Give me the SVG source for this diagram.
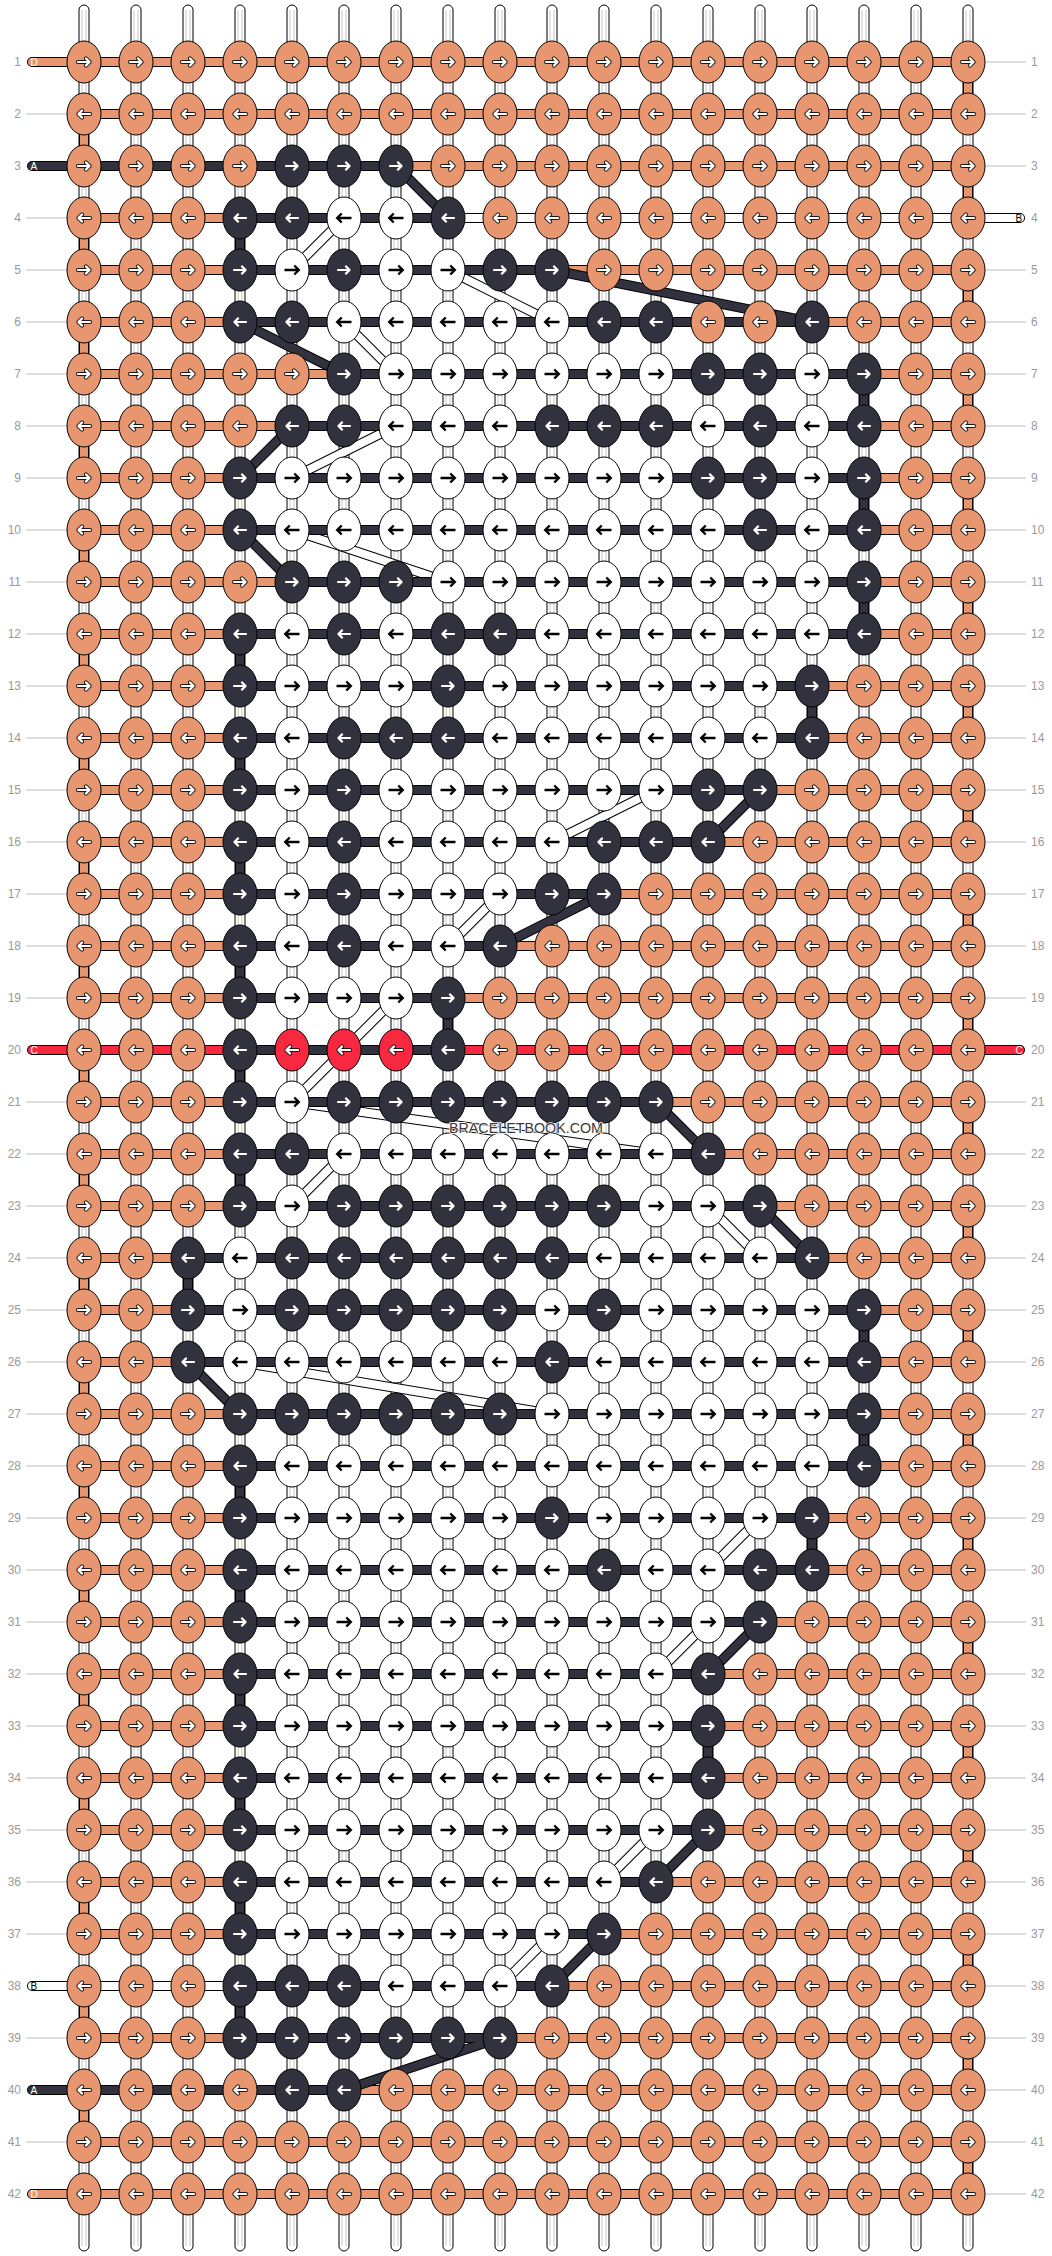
<svg xmlns="http://www.w3.org/2000/svg" width="1052" height="2256" viewBox="0 0 1052 2256">
<style>
.ks{fill:#E89670;stroke:#000;stroke-width:1}
.kk{fill:#32323E;stroke:#000;stroke-width:1}
.kw{fill:#fff;stroke:#000;stroke-width:1}
.kr{fill:#F92841;stroke:#000;stroke-width:1}
.ao{fill:none;stroke:#1a1a1a;stroke-width:4.2;stroke-linecap:round;stroke-linejoin:round}
.aw{fill:none;stroke:#fff;stroke-width:2.2;stroke-linecap:round;stroke-linejoin:round}
.ab{fill:none;stroke:#000;stroke-width:2.4;stroke-linejoin:miter}
.to{fill:none;stroke:#000;stroke-width:10;stroke-linecap:round;stroke-linejoin:round}
.tc{fill:none;stroke-width:8;stroke-linecap:round;stroke-linejoin:round}
.cD{stroke:#E89670}
.cC{stroke:#F92841}
.cB{stroke:#fff}
.cA{stroke:#32323E}
.gl{fill:none;stroke:#bdbdbd;stroke-width:1}
.num text{font-family:"Liberation Sans",Arial,sans-serif;font-size:12px;fill:#9a9a9a}
.lab{font-family:"Liberation Sans",Arial,sans-serif;font-size:10px}
</style>
<defs>
<g id="bstr"><rect x="-5" y="5" width="10" height="2246" rx="5" fill="#fff" stroke="#000" stroke-width="1"/><path d="M-2,10V2246M2,10V2246" stroke="#c8c8c8" stroke-width="1" fill="none"/></g>
<path id="ar" d="M-6,0H5.4M1.9,-3.6L5.6,0L1.9,3.6"/>
<path id="al" d="M6,0H-5.4M-1.9,-3.6L-5.6,0L-1.9,3.6"/>
<path id="br" d="M-7.5,0H6.5M2.3,-4.5L6.8,0L2.3,4.5"/>
<path id="bl" d="M7.5,0H-6.5M-2.3,-4.5L-6.8,0L-2.3,4.5"/>
<g id="Sr"><ellipse class="ks" rx="17" ry="21"/><use href="#ar" class="ao"/><use href="#ar" class="aw"/></g>
<g id="Sl"><ellipse class="ks" rx="17" ry="21"/><use href="#al" class="ao"/><use href="#al" class="aw"/></g>
<g id="Kr"><ellipse class="kk" rx="17" ry="21"/><use href="#ar" class="aw"/></g>
<g id="Kl"><ellipse class="kk" rx="17" ry="21"/><use href="#al" class="aw"/></g>
<g id="Wr"><ellipse class="kw" rx="17" ry="21"/><use href="#br" class="ab"/></g>
<g id="Wl"><ellipse class="kw" rx="17" ry="21"/><use href="#bl" class="ab"/></g>
<g id="Rl"><ellipse class="kr" rx="17" ry="21"/><use href="#al" class="ao"/><use href="#al" class="aw"/></g>
<path id="pD" d="M32,62H968V114H84V166H968V218H84V270H968V322H84V374H968V426H84V478H968V530H84V582H968V634H84V686H968V738H84V790H968V842H84V894H968V946H84V998H968V1050H84V1102H968V1154H84V1206H968V1258H84V1310H968V1362H84V1414H968V1466H84V1518H968V1570H84V1622H968V1674H84V1726H968V1778H84V1830H968V1882H84V1934H968V1986H84V2038H968V2090H84V2142H968V2194H32"/>
<path id="pC" d="M32,1050H1020"/>
<path id="pB" d="M1020,218H344L292,270H448L552,322H344L396,374H812M812,426H396L292,478H812M812,530H292L448,582H812M812,634H292M292,686H760M760,738H292M292,790H656L552,842H292M292,894H500L448,946H292M292,998H396L292,1102L656,1154H344L292,1206H708L760,1258H240M240,1310H812M812,1362H240L552,1414H812M812,1466H292M292,1518H760L708,1570H292M292,1622H708L656,1674H292M292,1726H656M656,1778H292M292,1830H656L604,1882H292M292,1934H552L500,1986H32"/>
<path id="pA" d="M32,166H396L448,218H240V270H552L812,322H240L344,374H864V426H292L240,478H864V530H240L292,582H864V634H240V686H812V738H240V790H760L708,842H240V894H604L500,946H240V998H448V1050H240V1102H656L708,1154H240V1206H760L812,1258H188V1310H864V1362H188L240,1414H864V1466H240V1518H812V1570H240V1622H760L708,1674H240V1726H708V1778H240V1830H708L656,1882H240V1934H604L552,1986H240V2038H500L344,2090H32"/>
</defs>
<rect width="1052" height="2256" fill="#fff"/>
<g id="base-strings">
<use href="#bstr" x="84"/><use href="#bstr" x="136"/><use href="#bstr" x="188"/><use href="#bstr" x="240"/><use href="#bstr" x="292"/><use href="#bstr" x="344"/><use href="#bstr" x="396"/><use href="#bstr" x="448"/><use href="#bstr" x="500"/><use href="#bstr" x="552"/><use href="#bstr" x="604"/><use href="#bstr" x="656"/><use href="#bstr" x="708"/><use href="#bstr" x="760"/><use href="#bstr" x="812"/><use href="#bstr" x="864"/><use href="#bstr" x="916"/><use href="#bstr" x="968"/>
</g>
<g id="row-lines">
<path class="gl" d="M26,114H67M26,218H67M26,270H67M26,322H67M26,374H67M26,426H67M26,478H67M26,530H67M26,582H67M26,634H67M26,686H67M26,738H67M26,790H67M26,842H67M26,894H67M26,946H67M26,998H67M26,1102H67M26,1154H67M26,1206H67M26,1258H67M26,1310H67M26,1362H67M26,1414H67M26,1466H67M26,1518H67M26,1570H67M26,1622H67M26,1674H67M26,1726H67M26,1778H67M26,1830H67M26,1882H67M26,1934H67M26,2038H67M26,2142H67"/>
<path class="gl" d="M985,62H1026M985,114H1026M985,166H1026M985,270H1026M985,322H1026M985,374H1026M985,426H1026M985,478H1026M985,530H1026M985,582H1026M985,634H1026M985,686H1026M985,738H1026M985,790H1026M985,842H1026M985,894H1026M985,946H1026M985,998H1026M985,1102H1026M985,1154H1026M985,1206H1026M985,1258H1026M985,1310H1026M985,1362H1026M985,1414H1026M985,1466H1026M985,1518H1026M985,1570H1026M985,1622H1026M985,1674H1026M985,1726H1026M985,1778H1026M985,1830H1026M985,1882H1026M985,1934H1026M985,1986H1026M985,2038H1026M985,2090H1026M985,2142H1026M985,2194H1026"/>
</g>
<g id="connectors">
<g id="thread-D"><use href="#pD" class="to"/><use href="#pD" class="tc cD"/></g>
<g id="thread-C"><use href="#pC" class="to"/><use href="#pC" class="tc cC"/></g>
<g id="thread-B"><use href="#pB" class="to"/><use href="#pB" class="tc cB"/></g>
<g id="thread-A"><use href="#pA" class="to"/><use href="#pA" class="tc cA"/></g>
</g>
<g id="knots">
<g id="row1" transform="translate(0 62)"><g id="k1_1"><use href="#Sr" x="84"/></g><g id="k1_2"><use href="#Sr" x="136"/></g><g id="k1_3"><use href="#Sr" x="188"/></g><g id="k1_4"><use href="#Sr" x="240"/></g><g id="k1_5"><use href="#Sr" x="292"/></g><g id="k1_6"><use href="#Sr" x="344"/></g><g id="k1_7"><use href="#Sr" x="396"/></g><g id="k1_8"><use href="#Sr" x="448"/></g><g id="k1_9"><use href="#Sr" x="500"/></g><g id="k1_10"><use href="#Sr" x="552"/></g><g id="k1_11"><use href="#Sr" x="604"/></g><g id="k1_12"><use href="#Sr" x="656"/></g><g id="k1_13"><use href="#Sr" x="708"/></g><g id="k1_14"><use href="#Sr" x="760"/></g><g id="k1_15"><use href="#Sr" x="812"/></g><g id="k1_16"><use href="#Sr" x="864"/></g><g id="k1_17"><use href="#Sr" x="916"/></g><g id="k1_18"><use href="#Sr" x="968"/></g></g>
<g id="row2" transform="translate(0 114)"><g id="k2_1"><use href="#Sl" x="84"/></g><g id="k2_2"><use href="#Sl" x="136"/></g><g id="k2_3"><use href="#Sl" x="188"/></g><g id="k2_4"><use href="#Sl" x="240"/></g><g id="k2_5"><use href="#Sl" x="292"/></g><g id="k2_6"><use href="#Sl" x="344"/></g><g id="k2_7"><use href="#Sl" x="396"/></g><g id="k2_8"><use href="#Sl" x="448"/></g><g id="k2_9"><use href="#Sl" x="500"/></g><g id="k2_10"><use href="#Sl" x="552"/></g><g id="k2_11"><use href="#Sl" x="604"/></g><g id="k2_12"><use href="#Sl" x="656"/></g><g id="k2_13"><use href="#Sl" x="708"/></g><g id="k2_14"><use href="#Sl" x="760"/></g><g id="k2_15"><use href="#Sl" x="812"/></g><g id="k2_16"><use href="#Sl" x="864"/></g><g id="k2_17"><use href="#Sl" x="916"/></g><g id="k2_18"><use href="#Sl" x="968"/></g></g>
<g id="row3" transform="translate(0 166)"><g id="k3_1"><use href="#Sr" x="84"/></g><g id="k3_2"><use href="#Sr" x="136"/></g><g id="k3_3"><use href="#Sr" x="188"/></g><g id="k3_4"><use href="#Sr" x="240"/></g><g id="k3_5"><use href="#Kr" x="292"/></g><g id="k3_6"><use href="#Kr" x="344"/></g><g id="k3_7"><use href="#Kr" x="396"/></g><g id="k3_8"><use href="#Sr" x="448"/></g><g id="k3_9"><use href="#Sr" x="500"/></g><g id="k3_10"><use href="#Sr" x="552"/></g><g id="k3_11"><use href="#Sr" x="604"/></g><g id="k3_12"><use href="#Sr" x="656"/></g><g id="k3_13"><use href="#Sr" x="708"/></g><g id="k3_14"><use href="#Sr" x="760"/></g><g id="k3_15"><use href="#Sr" x="812"/></g><g id="k3_16"><use href="#Sr" x="864"/></g><g id="k3_17"><use href="#Sr" x="916"/></g><g id="k3_18"><use href="#Sr" x="968"/></g></g>
<g id="row4" transform="translate(0 218)"><g id="k4_1"><use href="#Sl" x="84"/></g><g id="k4_2"><use href="#Sl" x="136"/></g><g id="k4_3"><use href="#Sl" x="188"/></g><g id="k4_4"><use href="#Kl" x="240"/></g><g id="k4_5"><use href="#Kl" x="292"/></g><g id="k4_6"><use href="#Wl" x="344"/></g><g id="k4_7"><use href="#Wl" x="396"/></g><g id="k4_8"><use href="#Kl" x="448"/></g><g id="k4_9"><use href="#Sl" x="500"/></g><g id="k4_10"><use href="#Sl" x="552"/></g><g id="k4_11"><use href="#Sl" x="604"/></g><g id="k4_12"><use href="#Sl" x="656"/></g><g id="k4_13"><use href="#Sl" x="708"/></g><g id="k4_14"><use href="#Sl" x="760"/></g><g id="k4_15"><use href="#Sl" x="812"/></g><g id="k4_16"><use href="#Sl" x="864"/></g><g id="k4_17"><use href="#Sl" x="916"/></g><g id="k4_18"><use href="#Sl" x="968"/></g></g>
<g id="row5" transform="translate(0 270)"><g id="k5_1"><use href="#Sr" x="84"/></g><g id="k5_2"><use href="#Sr" x="136"/></g><g id="k5_3"><use href="#Sr" x="188"/></g><g id="k5_4"><use href="#Kr" x="240"/></g><g id="k5_5"><use href="#Wr" x="292"/></g><g id="k5_6"><use href="#Kr" x="344"/></g><g id="k5_7"><use href="#Wr" x="396"/></g><g id="k5_8"><use href="#Wr" x="448"/></g><g id="k5_9"><use href="#Kr" x="500"/></g><g id="k5_10"><use href="#Kr" x="552"/></g><g id="k5_11"><use href="#Sr" x="604"/></g><g id="k5_12"><use href="#Sr" x="656"/></g><g id="k5_13"><use href="#Sr" x="708"/></g><g id="k5_14"><use href="#Sr" x="760"/></g><g id="k5_15"><use href="#Sr" x="812"/></g><g id="k5_16"><use href="#Sr" x="864"/></g><g id="k5_17"><use href="#Sr" x="916"/></g><g id="k5_18"><use href="#Sr" x="968"/></g></g>
<g id="row6" transform="translate(0 322)"><g id="k6_1"><use href="#Sl" x="84"/></g><g id="k6_2"><use href="#Sl" x="136"/></g><g id="k6_3"><use href="#Sl" x="188"/></g><g id="k6_4"><use href="#Kl" x="240"/></g><g id="k6_5"><use href="#Kl" x="292"/></g><g id="k6_6"><use href="#Wl" x="344"/></g><g id="k6_7"><use href="#Wl" x="396"/></g><g id="k6_8"><use href="#Wl" x="448"/></g><g id="k6_9"><use href="#Wl" x="500"/></g><g id="k6_10"><use href="#Wl" x="552"/></g><g id="k6_11"><use href="#Kl" x="604"/></g><g id="k6_12"><use href="#Kl" x="656"/></g><g id="k6_13"><use href="#Sl" x="708"/></g><g id="k6_14"><use href="#Sl" x="760"/></g><g id="k6_15"><use href="#Kl" x="812"/></g><g id="k6_16"><use href="#Sl" x="864"/></g><g id="k6_17"><use href="#Sl" x="916"/></g><g id="k6_18"><use href="#Sl" x="968"/></g></g>
<g id="row7" transform="translate(0 374)"><g id="k7_1"><use href="#Sr" x="84"/></g><g id="k7_2"><use href="#Sr" x="136"/></g><g id="k7_3"><use href="#Sr" x="188"/></g><g id="k7_4"><use href="#Sr" x="240"/></g><g id="k7_5"><use href="#Sr" x="292"/></g><g id="k7_6"><use href="#Kr" x="344"/></g><g id="k7_7"><use href="#Wr" x="396"/></g><g id="k7_8"><use href="#Wr" x="448"/></g><g id="k7_9"><use href="#Wr" x="500"/></g><g id="k7_10"><use href="#Wr" x="552"/></g><g id="k7_11"><use href="#Wr" x="604"/></g><g id="k7_12"><use href="#Wr" x="656"/></g><g id="k7_13"><use href="#Kr" x="708"/></g><g id="k7_14"><use href="#Kr" x="760"/></g><g id="k7_15"><use href="#Wr" x="812"/></g><g id="k7_16"><use href="#Kr" x="864"/></g><g id="k7_17"><use href="#Sr" x="916"/></g><g id="k7_18"><use href="#Sr" x="968"/></g></g>
<g id="row8" transform="translate(0 426)"><g id="k8_1"><use href="#Sl" x="84"/></g><g id="k8_2"><use href="#Sl" x="136"/></g><g id="k8_3"><use href="#Sl" x="188"/></g><g id="k8_4"><use href="#Sl" x="240"/></g><g id="k8_5"><use href="#Kl" x="292"/></g><g id="k8_6"><use href="#Kl" x="344"/></g><g id="k8_7"><use href="#Wl" x="396"/></g><g id="k8_8"><use href="#Wl" x="448"/></g><g id="k8_9"><use href="#Wl" x="500"/></g><g id="k8_10"><use href="#Kl" x="552"/></g><g id="k8_11"><use href="#Kl" x="604"/></g><g id="k8_12"><use href="#Kl" x="656"/></g><g id="k8_13"><use href="#Wl" x="708"/></g><g id="k8_14"><use href="#Kl" x="760"/></g><g id="k8_15"><use href="#Wl" x="812"/></g><g id="k8_16"><use href="#Kl" x="864"/></g><g id="k8_17"><use href="#Sl" x="916"/></g><g id="k8_18"><use href="#Sl" x="968"/></g></g>
<g id="row9" transform="translate(0 478)"><g id="k9_1"><use href="#Sr" x="84"/></g><g id="k9_2"><use href="#Sr" x="136"/></g><g id="k9_3"><use href="#Sr" x="188"/></g><g id="k9_4"><use href="#Kr" x="240"/></g><g id="k9_5"><use href="#Wr" x="292"/></g><g id="k9_6"><use href="#Wr" x="344"/></g><g id="k9_7"><use href="#Wr" x="396"/></g><g id="k9_8"><use href="#Wr" x="448"/></g><g id="k9_9"><use href="#Wr" x="500"/></g><g id="k9_10"><use href="#Wr" x="552"/></g><g id="k9_11"><use href="#Wr" x="604"/></g><g id="k9_12"><use href="#Wr" x="656"/></g><g id="k9_13"><use href="#Kr" x="708"/></g><g id="k9_14"><use href="#Kr" x="760"/></g><g id="k9_15"><use href="#Wr" x="812"/></g><g id="k9_16"><use href="#Kr" x="864"/></g><g id="k9_17"><use href="#Sr" x="916"/></g><g id="k9_18"><use href="#Sr" x="968"/></g></g>
<g id="row10" transform="translate(0 530)"><g id="k10_1"><use href="#Sl" x="84"/></g><g id="k10_2"><use href="#Sl" x="136"/></g><g id="k10_3"><use href="#Sl" x="188"/></g><g id="k10_4"><use href="#Kl" x="240"/></g><g id="k10_5"><use href="#Wl" x="292"/></g><g id="k10_6"><use href="#Wl" x="344"/></g><g id="k10_7"><use href="#Wl" x="396"/></g><g id="k10_8"><use href="#Wl" x="448"/></g><g id="k10_9"><use href="#Wl" x="500"/></g><g id="k10_10"><use href="#Wl" x="552"/></g><g id="k10_11"><use href="#Wl" x="604"/></g><g id="k10_12"><use href="#Wl" x="656"/></g><g id="k10_13"><use href="#Wl" x="708"/></g><g id="k10_14"><use href="#Kl" x="760"/></g><g id="k10_15"><use href="#Wl" x="812"/></g><g id="k10_16"><use href="#Kl" x="864"/></g><g id="k10_17"><use href="#Sl" x="916"/></g><g id="k10_18"><use href="#Sl" x="968"/></g></g>
<g id="row11" transform="translate(0 582)"><g id="k11_1"><use href="#Sr" x="84"/></g><g id="k11_2"><use href="#Sr" x="136"/></g><g id="k11_3"><use href="#Sr" x="188"/></g><g id="k11_4"><use href="#Sr" x="240"/></g><g id="k11_5"><use href="#Kr" x="292"/></g><g id="k11_6"><use href="#Kr" x="344"/></g><g id="k11_7"><use href="#Kr" x="396"/></g><g id="k11_8"><use href="#Wr" x="448"/></g><g id="k11_9"><use href="#Wr" x="500"/></g><g id="k11_10"><use href="#Wr" x="552"/></g><g id="k11_11"><use href="#Wr" x="604"/></g><g id="k11_12"><use href="#Wr" x="656"/></g><g id="k11_13"><use href="#Wr" x="708"/></g><g id="k11_14"><use href="#Wr" x="760"/></g><g id="k11_15"><use href="#Wr" x="812"/></g><g id="k11_16"><use href="#Kr" x="864"/></g><g id="k11_17"><use href="#Sr" x="916"/></g><g id="k11_18"><use href="#Sr" x="968"/></g></g>
<g id="row12" transform="translate(0 634)"><g id="k12_1"><use href="#Sl" x="84"/></g><g id="k12_2"><use href="#Sl" x="136"/></g><g id="k12_3"><use href="#Sl" x="188"/></g><g id="k12_4"><use href="#Kl" x="240"/></g><g id="k12_5"><use href="#Wl" x="292"/></g><g id="k12_6"><use href="#Kl" x="344"/></g><g id="k12_7"><use href="#Wl" x="396"/></g><g id="k12_8"><use href="#Kl" x="448"/></g><g id="k12_9"><use href="#Kl" x="500"/></g><g id="k12_10"><use href="#Wl" x="552"/></g><g id="k12_11"><use href="#Wl" x="604"/></g><g id="k12_12"><use href="#Wl" x="656"/></g><g id="k12_13"><use href="#Wl" x="708"/></g><g id="k12_14"><use href="#Wl" x="760"/></g><g id="k12_15"><use href="#Wl" x="812"/></g><g id="k12_16"><use href="#Kl" x="864"/></g><g id="k12_17"><use href="#Sl" x="916"/></g><g id="k12_18"><use href="#Sl" x="968"/></g></g>
<g id="row13" transform="translate(0 686)"><g id="k13_1"><use href="#Sr" x="84"/></g><g id="k13_2"><use href="#Sr" x="136"/></g><g id="k13_3"><use href="#Sr" x="188"/></g><g id="k13_4"><use href="#Kr" x="240"/></g><g id="k13_5"><use href="#Wr" x="292"/></g><g id="k13_6"><use href="#Wr" x="344"/></g><g id="k13_7"><use href="#Wr" x="396"/></g><g id="k13_8"><use href="#Kr" x="448"/></g><g id="k13_9"><use href="#Wr" x="500"/></g><g id="k13_10"><use href="#Wr" x="552"/></g><g id="k13_11"><use href="#Wr" x="604"/></g><g id="k13_12"><use href="#Wr" x="656"/></g><g id="k13_13"><use href="#Wr" x="708"/></g><g id="k13_14"><use href="#Wr" x="760"/></g><g id="k13_15"><use href="#Kr" x="812"/></g><g id="k13_16"><use href="#Sr" x="864"/></g><g id="k13_17"><use href="#Sr" x="916"/></g><g id="k13_18"><use href="#Sr" x="968"/></g></g>
<g id="row14" transform="translate(0 738)"><g id="k14_1"><use href="#Sl" x="84"/></g><g id="k14_2"><use href="#Sl" x="136"/></g><g id="k14_3"><use href="#Sl" x="188"/></g><g id="k14_4"><use href="#Kl" x="240"/></g><g id="k14_5"><use href="#Wl" x="292"/></g><g id="k14_6"><use href="#Kl" x="344"/></g><g id="k14_7"><use href="#Kl" x="396"/></g><g id="k14_8"><use href="#Kl" x="448"/></g><g id="k14_9"><use href="#Wl" x="500"/></g><g id="k14_10"><use href="#Wl" x="552"/></g><g id="k14_11"><use href="#Wl" x="604"/></g><g id="k14_12"><use href="#Wl" x="656"/></g><g id="k14_13"><use href="#Wl" x="708"/></g><g id="k14_14"><use href="#Wl" x="760"/></g><g id="k14_15"><use href="#Kl" x="812"/></g><g id="k14_16"><use href="#Sl" x="864"/></g><g id="k14_17"><use href="#Sl" x="916"/></g><g id="k14_18"><use href="#Sl" x="968"/></g></g>
<g id="row15" transform="translate(0 790)"><g id="k15_1"><use href="#Sr" x="84"/></g><g id="k15_2"><use href="#Sr" x="136"/></g><g id="k15_3"><use href="#Sr" x="188"/></g><g id="k15_4"><use href="#Kr" x="240"/></g><g id="k15_5"><use href="#Wr" x="292"/></g><g id="k15_6"><use href="#Kr" x="344"/></g><g id="k15_7"><use href="#Wr" x="396"/></g><g id="k15_8"><use href="#Wr" x="448"/></g><g id="k15_9"><use href="#Wr" x="500"/></g><g id="k15_10"><use href="#Wr" x="552"/></g><g id="k15_11"><use href="#Wr" x="604"/></g><g id="k15_12"><use href="#Wr" x="656"/></g><g id="k15_13"><use href="#Kr" x="708"/></g><g id="k15_14"><use href="#Kr" x="760"/></g><g id="k15_15"><use href="#Sr" x="812"/></g><g id="k15_16"><use href="#Sr" x="864"/></g><g id="k15_17"><use href="#Sr" x="916"/></g><g id="k15_18"><use href="#Sr" x="968"/></g></g>
<g id="row16" transform="translate(0 842)"><g id="k16_1"><use href="#Sl" x="84"/></g><g id="k16_2"><use href="#Sl" x="136"/></g><g id="k16_3"><use href="#Sl" x="188"/></g><g id="k16_4"><use href="#Kl" x="240"/></g><g id="k16_5"><use href="#Wl" x="292"/></g><g id="k16_6"><use href="#Kl" x="344"/></g><g id="k16_7"><use href="#Wl" x="396"/></g><g id="k16_8"><use href="#Wl" x="448"/></g><g id="k16_9"><use href="#Wl" x="500"/></g><g id="k16_10"><use href="#Wl" x="552"/></g><g id="k16_11"><use href="#Kl" x="604"/></g><g id="k16_12"><use href="#Kl" x="656"/></g><g id="k16_13"><use href="#Kl" x="708"/></g><g id="k16_14"><use href="#Sl" x="760"/></g><g id="k16_15"><use href="#Sl" x="812"/></g><g id="k16_16"><use href="#Sl" x="864"/></g><g id="k16_17"><use href="#Sl" x="916"/></g><g id="k16_18"><use href="#Sl" x="968"/></g></g>
<g id="row17" transform="translate(0 894)"><g id="k17_1"><use href="#Sr" x="84"/></g><g id="k17_2"><use href="#Sr" x="136"/></g><g id="k17_3"><use href="#Sr" x="188"/></g><g id="k17_4"><use href="#Kr" x="240"/></g><g id="k17_5"><use href="#Wr" x="292"/></g><g id="k17_6"><use href="#Kr" x="344"/></g><g id="k17_7"><use href="#Wr" x="396"/></g><g id="k17_8"><use href="#Wr" x="448"/></g><g id="k17_9"><use href="#Wr" x="500"/></g><g id="k17_10"><use href="#Kr" x="552"/></g><g id="k17_11"><use href="#Kr" x="604"/></g><g id="k17_12"><use href="#Sr" x="656"/></g><g id="k17_13"><use href="#Sr" x="708"/></g><g id="k17_14"><use href="#Sr" x="760"/></g><g id="k17_15"><use href="#Sr" x="812"/></g><g id="k17_16"><use href="#Sr" x="864"/></g><g id="k17_17"><use href="#Sr" x="916"/></g><g id="k17_18"><use href="#Sr" x="968"/></g></g>
<g id="row18" transform="translate(0 946)"><g id="k18_1"><use href="#Sl" x="84"/></g><g id="k18_2"><use href="#Sl" x="136"/></g><g id="k18_3"><use href="#Sl" x="188"/></g><g id="k18_4"><use href="#Kl" x="240"/></g><g id="k18_5"><use href="#Wl" x="292"/></g><g id="k18_6"><use href="#Kl" x="344"/></g><g id="k18_7"><use href="#Wl" x="396"/></g><g id="k18_8"><use href="#Wl" x="448"/></g><g id="k18_9"><use href="#Kl" x="500"/></g><g id="k18_10"><use href="#Sl" x="552"/></g><g id="k18_11"><use href="#Sl" x="604"/></g><g id="k18_12"><use href="#Sl" x="656"/></g><g id="k18_13"><use href="#Sl" x="708"/></g><g id="k18_14"><use href="#Sl" x="760"/></g><g id="k18_15"><use href="#Sl" x="812"/></g><g id="k18_16"><use href="#Sl" x="864"/></g><g id="k18_17"><use href="#Sl" x="916"/></g><g id="k18_18"><use href="#Sl" x="968"/></g></g>
<g id="row19" transform="translate(0 998)"><g id="k19_1"><use href="#Sr" x="84"/></g><g id="k19_2"><use href="#Sr" x="136"/></g><g id="k19_3"><use href="#Sr" x="188"/></g><g id="k19_4"><use href="#Kr" x="240"/></g><g id="k19_5"><use href="#Wr" x="292"/></g><g id="k19_6"><use href="#Wr" x="344"/></g><g id="k19_7"><use href="#Wr" x="396"/></g><g id="k19_8"><use href="#Kr" x="448"/></g><g id="k19_9"><use href="#Sr" x="500"/></g><g id="k19_10"><use href="#Sr" x="552"/></g><g id="k19_11"><use href="#Sr" x="604"/></g><g id="k19_12"><use href="#Sr" x="656"/></g><g id="k19_13"><use href="#Sr" x="708"/></g><g id="k19_14"><use href="#Sr" x="760"/></g><g id="k19_15"><use href="#Sr" x="812"/></g><g id="k19_16"><use href="#Sr" x="864"/></g><g id="k19_17"><use href="#Sr" x="916"/></g><g id="k19_18"><use href="#Sr" x="968"/></g></g>
<g id="row20" transform="translate(0 1050)"><g id="k20_1"><use href="#Sl" x="84"/></g><g id="k20_2"><use href="#Sl" x="136"/></g><g id="k20_3"><use href="#Sl" x="188"/></g><g id="k20_4"><use href="#Kl" x="240"/></g><g id="k20_5"><use href="#Rl" x="292"/></g><g id="k20_6"><use href="#Rl" x="344"/></g><g id="k20_7"><use href="#Rl" x="396"/></g><g id="k20_8"><use href="#Kl" x="448"/></g><g id="k20_9"><use href="#Sl" x="500"/></g><g id="k20_10"><use href="#Sl" x="552"/></g><g id="k20_11"><use href="#Sl" x="604"/></g><g id="k20_12"><use href="#Sl" x="656"/></g><g id="k20_13"><use href="#Sl" x="708"/></g><g id="k20_14"><use href="#Sl" x="760"/></g><g id="k20_15"><use href="#Sl" x="812"/></g><g id="k20_16"><use href="#Sl" x="864"/></g><g id="k20_17"><use href="#Sl" x="916"/></g><g id="k20_18"><use href="#Sl" x="968"/></g></g>
<g id="row21" transform="translate(0 1102)"><g id="k21_1"><use href="#Sr" x="84"/></g><g id="k21_2"><use href="#Sr" x="136"/></g><g id="k21_3"><use href="#Sr" x="188"/></g><g id="k21_4"><use href="#Kr" x="240"/></g><g id="k21_5"><use href="#Wr" x="292"/></g><g id="k21_6"><use href="#Kr" x="344"/></g><g id="k21_7"><use href="#Kr" x="396"/></g><g id="k21_8"><use href="#Kr" x="448"/></g><g id="k21_9"><use href="#Kr" x="500"/></g><g id="k21_10"><use href="#Kr" x="552"/></g><g id="k21_11"><use href="#Kr" x="604"/></g><g id="k21_12"><use href="#Kr" x="656"/></g><g id="k21_13"><use href="#Sr" x="708"/></g><g id="k21_14"><use href="#Sr" x="760"/></g><g id="k21_15"><use href="#Sr" x="812"/></g><g id="k21_16"><use href="#Sr" x="864"/></g><g id="k21_17"><use href="#Sr" x="916"/></g><g id="k21_18"><use href="#Sr" x="968"/></g></g>
<g id="row22" transform="translate(0 1154)"><g id="k22_1"><use href="#Sl" x="84"/></g><g id="k22_2"><use href="#Sl" x="136"/></g><g id="k22_3"><use href="#Sl" x="188"/></g><g id="k22_4"><use href="#Kl" x="240"/></g><g id="k22_5"><use href="#Kl" x="292"/></g><g id="k22_6"><use href="#Wl" x="344"/></g><g id="k22_7"><use href="#Wl" x="396"/></g><g id="k22_8"><use href="#Wl" x="448"/></g><g id="k22_9"><use href="#Wl" x="500"/></g><g id="k22_10"><use href="#Wl" x="552"/></g><g id="k22_11"><use href="#Wl" x="604"/></g><g id="k22_12"><use href="#Wl" x="656"/></g><g id="k22_13"><use href="#Kl" x="708"/></g><g id="k22_14"><use href="#Sl" x="760"/></g><g id="k22_15"><use href="#Sl" x="812"/></g><g id="k22_16"><use href="#Sl" x="864"/></g><g id="k22_17"><use href="#Sl" x="916"/></g><g id="k22_18"><use href="#Sl" x="968"/></g></g>
<g id="row23" transform="translate(0 1206)"><g id="k23_1"><use href="#Sr" x="84"/></g><g id="k23_2"><use href="#Sr" x="136"/></g><g id="k23_3"><use href="#Sr" x="188"/></g><g id="k23_4"><use href="#Kr" x="240"/></g><g id="k23_5"><use href="#Wr" x="292"/></g><g id="k23_6"><use href="#Kr" x="344"/></g><g id="k23_7"><use href="#Kr" x="396"/></g><g id="k23_8"><use href="#Kr" x="448"/></g><g id="k23_9"><use href="#Kr" x="500"/></g><g id="k23_10"><use href="#Kr" x="552"/></g><g id="k23_11"><use href="#Kr" x="604"/></g><g id="k23_12"><use href="#Wr" x="656"/></g><g id="k23_13"><use href="#Wr" x="708"/></g><g id="k23_14"><use href="#Kr" x="760"/></g><g id="k23_15"><use href="#Sr" x="812"/></g><g id="k23_16"><use href="#Sr" x="864"/></g><g id="k23_17"><use href="#Sr" x="916"/></g><g id="k23_18"><use href="#Sr" x="968"/></g></g>
<g id="row24" transform="translate(0 1258)"><g id="k24_1"><use href="#Sl" x="84"/></g><g id="k24_2"><use href="#Sl" x="136"/></g><g id="k24_3"><use href="#Kl" x="188"/></g><g id="k24_4"><use href="#Wl" x="240"/></g><g id="k24_5"><use href="#Kl" x="292"/></g><g id="k24_6"><use href="#Kl" x="344"/></g><g id="k24_7"><use href="#Kl" x="396"/></g><g id="k24_8"><use href="#Kl" x="448"/></g><g id="k24_9"><use href="#Kl" x="500"/></g><g id="k24_10"><use href="#Kl" x="552"/></g><g id="k24_11"><use href="#Wl" x="604"/></g><g id="k24_12"><use href="#Wl" x="656"/></g><g id="k24_13"><use href="#Wl" x="708"/></g><g id="k24_14"><use href="#Wl" x="760"/></g><g id="k24_15"><use href="#Kl" x="812"/></g><g id="k24_16"><use href="#Sl" x="864"/></g><g id="k24_17"><use href="#Sl" x="916"/></g><g id="k24_18"><use href="#Sl" x="968"/></g></g>
<g id="row25" transform="translate(0 1310)"><g id="k25_1"><use href="#Sr" x="84"/></g><g id="k25_2"><use href="#Sr" x="136"/></g><g id="k25_3"><use href="#Kr" x="188"/></g><g id="k25_4"><use href="#Wr" x="240"/></g><g id="k25_5"><use href="#Kr" x="292"/></g><g id="k25_6"><use href="#Kr" x="344"/></g><g id="k25_7"><use href="#Kr" x="396"/></g><g id="k25_8"><use href="#Kr" x="448"/></g><g id="k25_9"><use href="#Kr" x="500"/></g><g id="k25_10"><use href="#Wr" x="552"/></g><g id="k25_11"><use href="#Kr" x="604"/></g><g id="k25_12"><use href="#Wr" x="656"/></g><g id="k25_13"><use href="#Wr" x="708"/></g><g id="k25_14"><use href="#Wr" x="760"/></g><g id="k25_15"><use href="#Wr" x="812"/></g><g id="k25_16"><use href="#Kr" x="864"/></g><g id="k25_17"><use href="#Sr" x="916"/></g><g id="k25_18"><use href="#Sr" x="968"/></g></g>
<g id="row26" transform="translate(0 1362)"><g id="k26_1"><use href="#Sl" x="84"/></g><g id="k26_2"><use href="#Sl" x="136"/></g><g id="k26_3"><use href="#Kl" x="188"/></g><g id="k26_4"><use href="#Wl" x="240"/></g><g id="k26_5"><use href="#Wl" x="292"/></g><g id="k26_6"><use href="#Wl" x="344"/></g><g id="k26_7"><use href="#Wl" x="396"/></g><g id="k26_8"><use href="#Wl" x="448"/></g><g id="k26_9"><use href="#Wl" x="500"/></g><g id="k26_10"><use href="#Kl" x="552"/></g><g id="k26_11"><use href="#Wl" x="604"/></g><g id="k26_12"><use href="#Wl" x="656"/></g><g id="k26_13"><use href="#Wl" x="708"/></g><g id="k26_14"><use href="#Wl" x="760"/></g><g id="k26_15"><use href="#Wl" x="812"/></g><g id="k26_16"><use href="#Kl" x="864"/></g><g id="k26_17"><use href="#Sl" x="916"/></g><g id="k26_18"><use href="#Sl" x="968"/></g></g>
<g id="row27" transform="translate(0 1414)"><g id="k27_1"><use href="#Sr" x="84"/></g><g id="k27_2"><use href="#Sr" x="136"/></g><g id="k27_3"><use href="#Sr" x="188"/></g><g id="k27_4"><use href="#Kr" x="240"/></g><g id="k27_5"><use href="#Kr" x="292"/></g><g id="k27_6"><use href="#Kr" x="344"/></g><g id="k27_7"><use href="#Kr" x="396"/></g><g id="k27_8"><use href="#Kr" x="448"/></g><g id="k27_9"><use href="#Kr" x="500"/></g><g id="k27_10"><use href="#Wr" x="552"/></g><g id="k27_11"><use href="#Wr" x="604"/></g><g id="k27_12"><use href="#Wr" x="656"/></g><g id="k27_13"><use href="#Wr" x="708"/></g><g id="k27_14"><use href="#Wr" x="760"/></g><g id="k27_15"><use href="#Wr" x="812"/></g><g id="k27_16"><use href="#Kr" x="864"/></g><g id="k27_17"><use href="#Sr" x="916"/></g><g id="k27_18"><use href="#Sr" x="968"/></g></g>
<g id="row28" transform="translate(0 1466)"><g id="k28_1"><use href="#Sl" x="84"/></g><g id="k28_2"><use href="#Sl" x="136"/></g><g id="k28_3"><use href="#Sl" x="188"/></g><g id="k28_4"><use href="#Kl" x="240"/></g><g id="k28_5"><use href="#Wl" x="292"/></g><g id="k28_6"><use href="#Wl" x="344"/></g><g id="k28_7"><use href="#Wl" x="396"/></g><g id="k28_8"><use href="#Wl" x="448"/></g><g id="k28_9"><use href="#Wl" x="500"/></g><g id="k28_10"><use href="#Wl" x="552"/></g><g id="k28_11"><use href="#Wl" x="604"/></g><g id="k28_12"><use href="#Wl" x="656"/></g><g id="k28_13"><use href="#Wl" x="708"/></g><g id="k28_14"><use href="#Wl" x="760"/></g><g id="k28_15"><use href="#Wl" x="812"/></g><g id="k28_16"><use href="#Kl" x="864"/></g><g id="k28_17"><use href="#Sl" x="916"/></g><g id="k28_18"><use href="#Sl" x="968"/></g></g>
<g id="row29" transform="translate(0 1518)"><g id="k29_1"><use href="#Sr" x="84"/></g><g id="k29_2"><use href="#Sr" x="136"/></g><g id="k29_3"><use href="#Sr" x="188"/></g><g id="k29_4"><use href="#Kr" x="240"/></g><g id="k29_5"><use href="#Wr" x="292"/></g><g id="k29_6"><use href="#Wr" x="344"/></g><g id="k29_7"><use href="#Wr" x="396"/></g><g id="k29_8"><use href="#Wr" x="448"/></g><g id="k29_9"><use href="#Wr" x="500"/></g><g id="k29_10"><use href="#Kr" x="552"/></g><g id="k29_11"><use href="#Wr" x="604"/></g><g id="k29_12"><use href="#Wr" x="656"/></g><g id="k29_13"><use href="#Wr" x="708"/></g><g id="k29_14"><use href="#Wr" x="760"/></g><g id="k29_15"><use href="#Kr" x="812"/></g><g id="k29_16"><use href="#Sr" x="864"/></g><g id="k29_17"><use href="#Sr" x="916"/></g><g id="k29_18"><use href="#Sr" x="968"/></g></g>
<g id="row30" transform="translate(0 1570)"><g id="k30_1"><use href="#Sl" x="84"/></g><g id="k30_2"><use href="#Sl" x="136"/></g><g id="k30_3"><use href="#Sl" x="188"/></g><g id="k30_4"><use href="#Kl" x="240"/></g><g id="k30_5"><use href="#Wl" x="292"/></g><g id="k30_6"><use href="#Wl" x="344"/></g><g id="k30_7"><use href="#Wl" x="396"/></g><g id="k30_8"><use href="#Wl" x="448"/></g><g id="k30_9"><use href="#Wl" x="500"/></g><g id="k30_10"><use href="#Wl" x="552"/></g><g id="k30_11"><use href="#Kl" x="604"/></g><g id="k30_12"><use href="#Wl" x="656"/></g><g id="k30_13"><use href="#Wl" x="708"/></g><g id="k30_14"><use href="#Kl" x="760"/></g><g id="k30_15"><use href="#Kl" x="812"/></g><g id="k30_16"><use href="#Sl" x="864"/></g><g id="k30_17"><use href="#Sl" x="916"/></g><g id="k30_18"><use href="#Sl" x="968"/></g></g>
<g id="row31" transform="translate(0 1622)"><g id="k31_1"><use href="#Sr" x="84"/></g><g id="k31_2"><use href="#Sr" x="136"/></g><g id="k31_3"><use href="#Sr" x="188"/></g><g id="k31_4"><use href="#Kr" x="240"/></g><g id="k31_5"><use href="#Wr" x="292"/></g><g id="k31_6"><use href="#Wr" x="344"/></g><g id="k31_7"><use href="#Wr" x="396"/></g><g id="k31_8"><use href="#Wr" x="448"/></g><g id="k31_9"><use href="#Wr" x="500"/></g><g id="k31_10"><use href="#Wr" x="552"/></g><g id="k31_11"><use href="#Wr" x="604"/></g><g id="k31_12"><use href="#Wr" x="656"/></g><g id="k31_13"><use href="#Wr" x="708"/></g><g id="k31_14"><use href="#Kr" x="760"/></g><g id="k31_15"><use href="#Sr" x="812"/></g><g id="k31_16"><use href="#Sr" x="864"/></g><g id="k31_17"><use href="#Sr" x="916"/></g><g id="k31_18"><use href="#Sr" x="968"/></g></g>
<g id="row32" transform="translate(0 1674)"><g id="k32_1"><use href="#Sl" x="84"/></g><g id="k32_2"><use href="#Sl" x="136"/></g><g id="k32_3"><use href="#Sl" x="188"/></g><g id="k32_4"><use href="#Kl" x="240"/></g><g id="k32_5"><use href="#Wl" x="292"/></g><g id="k32_6"><use href="#Wl" x="344"/></g><g id="k32_7"><use href="#Wl" x="396"/></g><g id="k32_8"><use href="#Wl" x="448"/></g><g id="k32_9"><use href="#Wl" x="500"/></g><g id="k32_10"><use href="#Wl" x="552"/></g><g id="k32_11"><use href="#Wl" x="604"/></g><g id="k32_12"><use href="#Wl" x="656"/></g><g id="k32_13"><use href="#Kl" x="708"/></g><g id="k32_14"><use href="#Sl" x="760"/></g><g id="k32_15"><use href="#Sl" x="812"/></g><g id="k32_16"><use href="#Sl" x="864"/></g><g id="k32_17"><use href="#Sl" x="916"/></g><g id="k32_18"><use href="#Sl" x="968"/></g></g>
<g id="row33" transform="translate(0 1726)"><g id="k33_1"><use href="#Sr" x="84"/></g><g id="k33_2"><use href="#Sr" x="136"/></g><g id="k33_3"><use href="#Sr" x="188"/></g><g id="k33_4"><use href="#Kr" x="240"/></g><g id="k33_5"><use href="#Wr" x="292"/></g><g id="k33_6"><use href="#Wr" x="344"/></g><g id="k33_7"><use href="#Wr" x="396"/></g><g id="k33_8"><use href="#Wr" x="448"/></g><g id="k33_9"><use href="#Wr" x="500"/></g><g id="k33_10"><use href="#Wr" x="552"/></g><g id="k33_11"><use href="#Wr" x="604"/></g><g id="k33_12"><use href="#Wr" x="656"/></g><g id="k33_13"><use href="#Kr" x="708"/></g><g id="k33_14"><use href="#Sr" x="760"/></g><g id="k33_15"><use href="#Sr" x="812"/></g><g id="k33_16"><use href="#Sr" x="864"/></g><g id="k33_17"><use href="#Sr" x="916"/></g><g id="k33_18"><use href="#Sr" x="968"/></g></g>
<g id="row34" transform="translate(0 1778)"><g id="k34_1"><use href="#Sl" x="84"/></g><g id="k34_2"><use href="#Sl" x="136"/></g><g id="k34_3"><use href="#Sl" x="188"/></g><g id="k34_4"><use href="#Kl" x="240"/></g><g id="k34_5"><use href="#Wl" x="292"/></g><g id="k34_6"><use href="#Wl" x="344"/></g><g id="k34_7"><use href="#Wl" x="396"/></g><g id="k34_8"><use href="#Wl" x="448"/></g><g id="k34_9"><use href="#Wl" x="500"/></g><g id="k34_10"><use href="#Wl" x="552"/></g><g id="k34_11"><use href="#Wl" x="604"/></g><g id="k34_12"><use href="#Wl" x="656"/></g><g id="k34_13"><use href="#Kl" x="708"/></g><g id="k34_14"><use href="#Sl" x="760"/></g><g id="k34_15"><use href="#Sl" x="812"/></g><g id="k34_16"><use href="#Sl" x="864"/></g><g id="k34_17"><use href="#Sl" x="916"/></g><g id="k34_18"><use href="#Sl" x="968"/></g></g>
<g id="row35" transform="translate(0 1830)"><g id="k35_1"><use href="#Sr" x="84"/></g><g id="k35_2"><use href="#Sr" x="136"/></g><g id="k35_3"><use href="#Sr" x="188"/></g><g id="k35_4"><use href="#Kr" x="240"/></g><g id="k35_5"><use href="#Wr" x="292"/></g><g id="k35_6"><use href="#Wr" x="344"/></g><g id="k35_7"><use href="#Wr" x="396"/></g><g id="k35_8"><use href="#Wr" x="448"/></g><g id="k35_9"><use href="#Wr" x="500"/></g><g id="k35_10"><use href="#Wr" x="552"/></g><g id="k35_11"><use href="#Wr" x="604"/></g><g id="k35_12"><use href="#Wr" x="656"/></g><g id="k35_13"><use href="#Kr" x="708"/></g><g id="k35_14"><use href="#Sr" x="760"/></g><g id="k35_15"><use href="#Sr" x="812"/></g><g id="k35_16"><use href="#Sr" x="864"/></g><g id="k35_17"><use href="#Sr" x="916"/></g><g id="k35_18"><use href="#Sr" x="968"/></g></g>
<g id="row36" transform="translate(0 1882)"><g id="k36_1"><use href="#Sl" x="84"/></g><g id="k36_2"><use href="#Sl" x="136"/></g><g id="k36_3"><use href="#Sl" x="188"/></g><g id="k36_4"><use href="#Kl" x="240"/></g><g id="k36_5"><use href="#Wl" x="292"/></g><g id="k36_6"><use href="#Wl" x="344"/></g><g id="k36_7"><use href="#Wl" x="396"/></g><g id="k36_8"><use href="#Wl" x="448"/></g><g id="k36_9"><use href="#Wl" x="500"/></g><g id="k36_10"><use href="#Wl" x="552"/></g><g id="k36_11"><use href="#Wl" x="604"/></g><g id="k36_12"><use href="#Kl" x="656"/></g><g id="k36_13"><use href="#Sl" x="708"/></g><g id="k36_14"><use href="#Sl" x="760"/></g><g id="k36_15"><use href="#Sl" x="812"/></g><g id="k36_16"><use href="#Sl" x="864"/></g><g id="k36_17"><use href="#Sl" x="916"/></g><g id="k36_18"><use href="#Sl" x="968"/></g></g>
<g id="row37" transform="translate(0 1934)"><g id="k37_1"><use href="#Sr" x="84"/></g><g id="k37_2"><use href="#Sr" x="136"/></g><g id="k37_3"><use href="#Sr" x="188"/></g><g id="k37_4"><use href="#Kr" x="240"/></g><g id="k37_5"><use href="#Wr" x="292"/></g><g id="k37_6"><use href="#Wr" x="344"/></g><g id="k37_7"><use href="#Wr" x="396"/></g><g id="k37_8"><use href="#Wr" x="448"/></g><g id="k37_9"><use href="#Wr" x="500"/></g><g id="k37_10"><use href="#Wr" x="552"/></g><g id="k37_11"><use href="#Kr" x="604"/></g><g id="k37_12"><use href="#Sr" x="656"/></g><g id="k37_13"><use href="#Sr" x="708"/></g><g id="k37_14"><use href="#Sr" x="760"/></g><g id="k37_15"><use href="#Sr" x="812"/></g><g id="k37_16"><use href="#Sr" x="864"/></g><g id="k37_17"><use href="#Sr" x="916"/></g><g id="k37_18"><use href="#Sr" x="968"/></g></g>
<g id="row38" transform="translate(0 1986)"><g id="k38_1"><use href="#Sl" x="84"/></g><g id="k38_2"><use href="#Sl" x="136"/></g><g id="k38_3"><use href="#Sl" x="188"/></g><g id="k38_4"><use href="#Kl" x="240"/></g><g id="k38_5"><use href="#Kl" x="292"/></g><g id="k38_6"><use href="#Kl" x="344"/></g><g id="k38_7"><use href="#Wl" x="396"/></g><g id="k38_8"><use href="#Wl" x="448"/></g><g id="k38_9"><use href="#Wl" x="500"/></g><g id="k38_10"><use href="#Kl" x="552"/></g><g id="k38_11"><use href="#Sl" x="604"/></g><g id="k38_12"><use href="#Sl" x="656"/></g><g id="k38_13"><use href="#Sl" x="708"/></g><g id="k38_14"><use href="#Sl" x="760"/></g><g id="k38_15"><use href="#Sl" x="812"/></g><g id="k38_16"><use href="#Sl" x="864"/></g><g id="k38_17"><use href="#Sl" x="916"/></g><g id="k38_18"><use href="#Sl" x="968"/></g></g>
<g id="row39" transform="translate(0 2038)"><g id="k39_1"><use href="#Sr" x="84"/></g><g id="k39_2"><use href="#Sr" x="136"/></g><g id="k39_3"><use href="#Sr" x="188"/></g><g id="k39_4"><use href="#Kr" x="240"/></g><g id="k39_5"><use href="#Kr" x="292"/></g><g id="k39_6"><use href="#Kr" x="344"/></g><g id="k39_7"><use href="#Kr" x="396"/></g><g id="k39_8"><use href="#Kr" x="448"/></g><g id="k39_9"><use href="#Kr" x="500"/></g><g id="k39_10"><use href="#Sr" x="552"/></g><g id="k39_11"><use href="#Sr" x="604"/></g><g id="k39_12"><use href="#Sr" x="656"/></g><g id="k39_13"><use href="#Sr" x="708"/></g><g id="k39_14"><use href="#Sr" x="760"/></g><g id="k39_15"><use href="#Sr" x="812"/></g><g id="k39_16"><use href="#Sr" x="864"/></g><g id="k39_17"><use href="#Sr" x="916"/></g><g id="k39_18"><use href="#Sr" x="968"/></g></g>
<g id="row40" transform="translate(0 2090)"><g id="k40_1"><use href="#Sl" x="84"/></g><g id="k40_2"><use href="#Sl" x="136"/></g><g id="k40_3"><use href="#Sl" x="188"/></g><g id="k40_4"><use href="#Sl" x="240"/></g><g id="k40_5"><use href="#Kl" x="292"/></g><g id="k40_6"><use href="#Kl" x="344"/></g><g id="k40_7"><use href="#Sl" x="396"/></g><g id="k40_8"><use href="#Sl" x="448"/></g><g id="k40_9"><use href="#Sl" x="500"/></g><g id="k40_10"><use href="#Sl" x="552"/></g><g id="k40_11"><use href="#Sl" x="604"/></g><g id="k40_12"><use href="#Sl" x="656"/></g><g id="k40_13"><use href="#Sl" x="708"/></g><g id="k40_14"><use href="#Sl" x="760"/></g><g id="k40_15"><use href="#Sl" x="812"/></g><g id="k40_16"><use href="#Sl" x="864"/></g><g id="k40_17"><use href="#Sl" x="916"/></g><g id="k40_18"><use href="#Sl" x="968"/></g></g>
<g id="row41" transform="translate(0 2142)"><g id="k41_1"><use href="#Sr" x="84"/></g><g id="k41_2"><use href="#Sr" x="136"/></g><g id="k41_3"><use href="#Sr" x="188"/></g><g id="k41_4"><use href="#Sr" x="240"/></g><g id="k41_5"><use href="#Sr" x="292"/></g><g id="k41_6"><use href="#Sr" x="344"/></g><g id="k41_7"><use href="#Sr" x="396"/></g><g id="k41_8"><use href="#Sr" x="448"/></g><g id="k41_9"><use href="#Sr" x="500"/></g><g id="k41_10"><use href="#Sr" x="552"/></g><g id="k41_11"><use href="#Sr" x="604"/></g><g id="k41_12"><use href="#Sr" x="656"/></g><g id="k41_13"><use href="#Sr" x="708"/></g><g id="k41_14"><use href="#Sr" x="760"/></g><g id="k41_15"><use href="#Sr" x="812"/></g><g id="k41_16"><use href="#Sr" x="864"/></g><g id="k41_17"><use href="#Sr" x="916"/></g><g id="k41_18"><use href="#Sr" x="968"/></g></g>
<g id="row42" transform="translate(0 2194)"><g id="k42_1"><use href="#Sl" x="84"/></g><g id="k42_2"><use href="#Sl" x="136"/></g><g id="k42_3"><use href="#Sl" x="188"/></g><g id="k42_4"><use href="#Sl" x="240"/></g><g id="k42_5"><use href="#Sl" x="292"/></g><g id="k42_6"><use href="#Sl" x="344"/></g><g id="k42_7"><use href="#Sl" x="396"/></g><g id="k42_8"><use href="#Sl" x="448"/></g><g id="k42_9"><use href="#Sl" x="500"/></g><g id="k42_10"><use href="#Sl" x="552"/></g><g id="k42_11"><use href="#Sl" x="604"/></g><g id="k42_12"><use href="#Sl" x="656"/></g><g id="k42_13"><use href="#Sl" x="708"/></g><g id="k42_14"><use href="#Sl" x="760"/></g><g id="k42_15"><use href="#Sl" x="812"/></g><g id="k42_16"><use href="#Sl" x="864"/></g><g id="k42_17"><use href="#Sl" x="916"/></g><g id="k42_18"><use href="#Sl" x="968"/></g></g>
</g>
<g id="thread-labels" class="lab">
<text x="30.5" y="65.6" fill="#fff">D</text>
<text x="30.5" y="169.6" fill="#fff">A</text>
<text x="1015.5" y="221.6" fill="#000">B</text>
<text x="30.5" y="1053.6" fill="#fff">C</text>
<text x="1015.5" y="1053.6" fill="#fff">C</text>
<text x="30.5" y="1989.6" fill="#000">B</text>
<text x="30.5" y="2093.6" fill="#fff">A</text>
<text x="30.5" y="2197.6" fill="#fff">D</text>
</g>
<g id="row-numbers" class="num">
<g text-anchor="end">
<text x="21" y="66.3">1</text><text x="21" y="118.3">2</text><text x="21" y="170.3">3</text><text x="21" y="222.3">4</text><text x="21" y="274.3">5</text><text x="21" y="326.3">6</text><text x="21" y="378.3">7</text><text x="21" y="430.3">8</text><text x="21" y="482.3">9</text><text x="21" y="534.3">10</text><text x="21" y="586.3">11</text><text x="21" y="638.3">12</text><text x="21" y="690.3">13</text><text x="21" y="742.3">14</text><text x="21" y="794.3">15</text><text x="21" y="846.3">16</text><text x="21" y="898.3">17</text><text x="21" y="950.3">18</text><text x="21" y="1002.3">19</text><text x="21" y="1054.3">20</text><text x="21" y="1106.3">21</text><text x="21" y="1158.3">22</text><text x="21" y="1210.3">23</text><text x="21" y="1262.3">24</text><text x="21" y="1314.3">25</text><text x="21" y="1366.3">26</text><text x="21" y="1418.3">27</text><text x="21" y="1470.3">28</text><text x="21" y="1522.3">29</text><text x="21" y="1574.3">30</text><text x="21" y="1626.3">31</text><text x="21" y="1678.3">32</text><text x="21" y="1730.3">33</text><text x="21" y="1782.3">34</text><text x="21" y="1834.3">35</text><text x="21" y="1886.3">36</text><text x="21" y="1938.3">37</text><text x="21" y="1990.3">38</text><text x="21" y="2042.3">39</text><text x="21" y="2094.3">40</text><text x="21" y="2146.3">41</text><text x="21" y="2198.3">42</text>
</g>
<g>
<text x="1031" y="66.3">1</text><text x="1031" y="118.3">2</text><text x="1031" y="170.3">3</text><text x="1031" y="222.3">4</text><text x="1031" y="274.3">5</text><text x="1031" y="326.3">6</text><text x="1031" y="378.3">7</text><text x="1031" y="430.3">8</text><text x="1031" y="482.3">9</text><text x="1031" y="534.3">10</text><text x="1031" y="586.3">11</text><text x="1031" y="638.3">12</text><text x="1031" y="690.3">13</text><text x="1031" y="742.3">14</text><text x="1031" y="794.3">15</text><text x="1031" y="846.3">16</text><text x="1031" y="898.3">17</text><text x="1031" y="950.3">18</text><text x="1031" y="1002.3">19</text><text x="1031" y="1054.3">20</text><text x="1031" y="1106.3">21</text><text x="1031" y="1158.3">22</text><text x="1031" y="1210.3">23</text><text x="1031" y="1262.3">24</text><text x="1031" y="1314.3">25</text><text x="1031" y="1366.3">26</text><text x="1031" y="1418.3">27</text><text x="1031" y="1470.3">28</text><text x="1031" y="1522.3">29</text><text x="1031" y="1574.3">30</text><text x="1031" y="1626.3">31</text><text x="1031" y="1678.3">32</text><text x="1031" y="1730.3">33</text><text x="1031" y="1782.3">34</text><text x="1031" y="1834.3">35</text><text x="1031" y="1886.3">36</text><text x="1031" y="1938.3">37</text><text x="1031" y="1990.3">38</text><text x="1031" y="2042.3">39</text><text x="1031" y="2094.3">40</text><text x="1031" y="2146.3">41</text><text x="1031" y="2198.3">42</text>
</g>
</g>
<text id="watermark" x="526" y="1133" text-anchor="middle" font-family="'Liberation Sans',Arial,sans-serif" font-size="14.5" textLength="154" lengthAdjust="spacingAndGlyphs" fill="#3a3a3a" stroke="#fff" stroke-width="1.5" paint-order="stroke">BRACELETBOOK.COM</text>
</svg>
